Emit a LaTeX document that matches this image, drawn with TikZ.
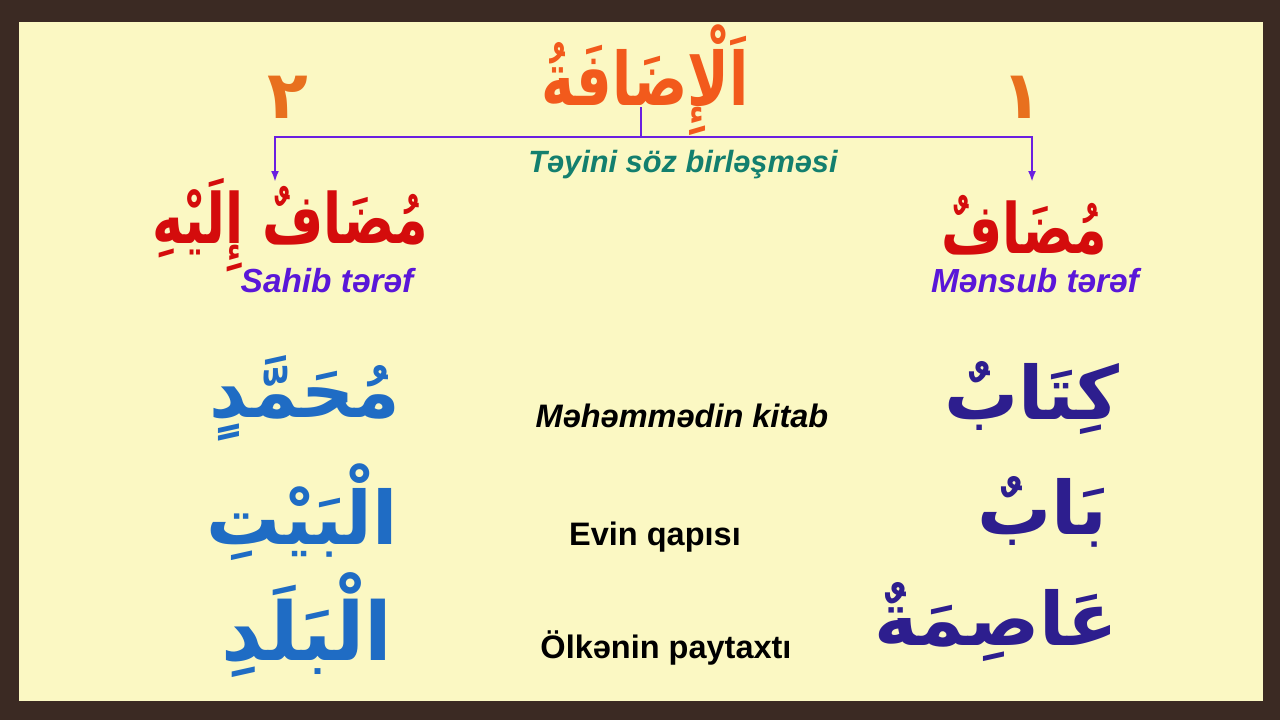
\documentclass[tikz,border=0pt]{standalone}
\usepackage{fontspec}
\setmainfont{Liberation Sans}
\newfontfamily\arabicfont[Script=Arabic]{DejaVu Sans}
\newfontfamily\arabicnarrow[Script=Arabic, FakeStretch=0.76]{DejaVu Sans}
\TeXXeTstate=1
\usetikzlibrary{positioning, arrows.meta}
\definecolor{frame}{HTML}{3B2A23}
\definecolor{paper}{HTML}{FBF8C3}
\definecolor{titlecol}{HTML}{F25A1C}
\definecolor{numcol}{HTML}{E8701E}
\definecolor{linkcol}{HTML}{6A1FE0}
\definecolor{tealcol}{HTML}{137F6E}
\definecolor{rolecol}{HTML}{D40C0C}
\definecolor{sidecol}{HTML}{5A17D8}
\definecolor{ownercol}{HTML}{1F6CC4}
\definecolor{ownedcol}{HTML}{2D1E8E}

\begin{document}
\begin{tikzpicture}[x=0.02cm, y=-0.02cm,
        AR/.style = {inner sep=0pt, font=\arabicfont\bfseries\fontsize{42pt}{50pt}\selectfont},%
        HEAD/.style = {inner sep=0pt, font=\arabicnarrow\bfseries\fontsize{42pt}{50pt}\selectfont},%
        AZ/.style = {inner sep=0pt, font=\bfseries\fontsize{18.5pt}{22pt}\selectfont},%
        AZI/.style = {inner sep=0pt, font=\bfseries\itshape\fontsize{18.5pt}{22pt}\selectfont},%
        line/.style = {draw=linkcol, line width=1.6pt},%
        arrow/.style = {line, {Latex[length=2.2mm, width=1.6mm]}-{Latex[length=2.2mm, width=1.6mm]}}%
    ]%
        \useasboundingbox (0,0) rectangle (1280,720);
        \fill[frame] (0,0) rectangle (1280,720);
        \fill[paper] (19,22) rectangle (1263,701);
        % header
        \node[HEAD, titlecol] (idafa) at (645,80) {\beginR اَلْإِضَافَةُ\endR};
        \node[AR, numcol, font=\arabicfont\bfseries\fontsize{38pt}{42pt}\selectfont] (two) at (288,97) {\beginR ٢\endR};
        \node[AR, numcol, font=\arabicfont\bfseries\fontsize{38pt}{42pt}\selectfont] (one) at (1022,97) {\beginR ١\endR};
        \coordinate (top) at (641,107);
        \coordinate (mid) at (641,137);
        \coordinate (bend) at (1032,137);
        \coordinate (L) at (275,182);
        \coordinate (R) at (1032,182);
        \draw[line] (top) -- (mid);
        \draw[arrow] (L) |- (bend) -- (R);
        \node[AZI, tealcol, font=\bfseries\itshape\fontsize{17.5pt}{22pt}\selectfont] (kind) at (683,165) {Təyini söz birləşməsi};
        % roles
        \node[HEAD, rolecol, font=\arabicnarrow\bfseries\fontsize{39.5pt}{44pt}\selectfont] (ilayh) at (290,225) {\beginR مُضَافٌ إِلَيْهِ\endR};
        \node[HEAD, rolecol, font=\arabicnarrow\bfseries\fontsize{39.5pt}{44pt}\selectfont] (mudaf) at (1024,225) {\beginR مُضَافٌ\endR};
        \node[AZI, sidecol, font=\bfseries\itshape\fontsize{19pt}{22pt}\selectfont] (sahib) at (327,281) {Sahib tərəf};
        \node[AZI, sidecol, font=\bfseries\itshape\fontsize{19pt}{22pt}\selectfont] (mensub) at (1035,281) {Mənsub tərəf};
        % examples
        \node[AR, ownercol] (w1) at (305,398) {\beginR مُحَمَّدٍ\endR};
        \node[AR, ownercol] (w2) at (302,512) {\beginR الْبَيْتِ\endR};
        \node[AR, ownercol, font=\arabicfont\bfseries\fontsize{46pt}{52pt}\selectfont] (w3) at (307,625) {\beginR الْبَلَدِ\endR};
        \node[AR, ownedcol] (k1) at (1032,398) {\beginR كِتَابٌ\endR};
        \node[AR, ownedcol] (k2) at (1042,512) {\beginR بَابٌ\endR};
        \node[AR, ownedcol] (k3) at (996,622) {\beginR عَاصِمَةٌ\endR};
        \node[AZI] (m1) at (682,416) {Məhəmmədin kitab};
        \node[AZ] (m2) at (655,537) {Evin qapısı};
        \node[AZ] (m3) at (666,648) {Ölkənin paytaxtı};
    \end{tikzpicture}
\end{document}
